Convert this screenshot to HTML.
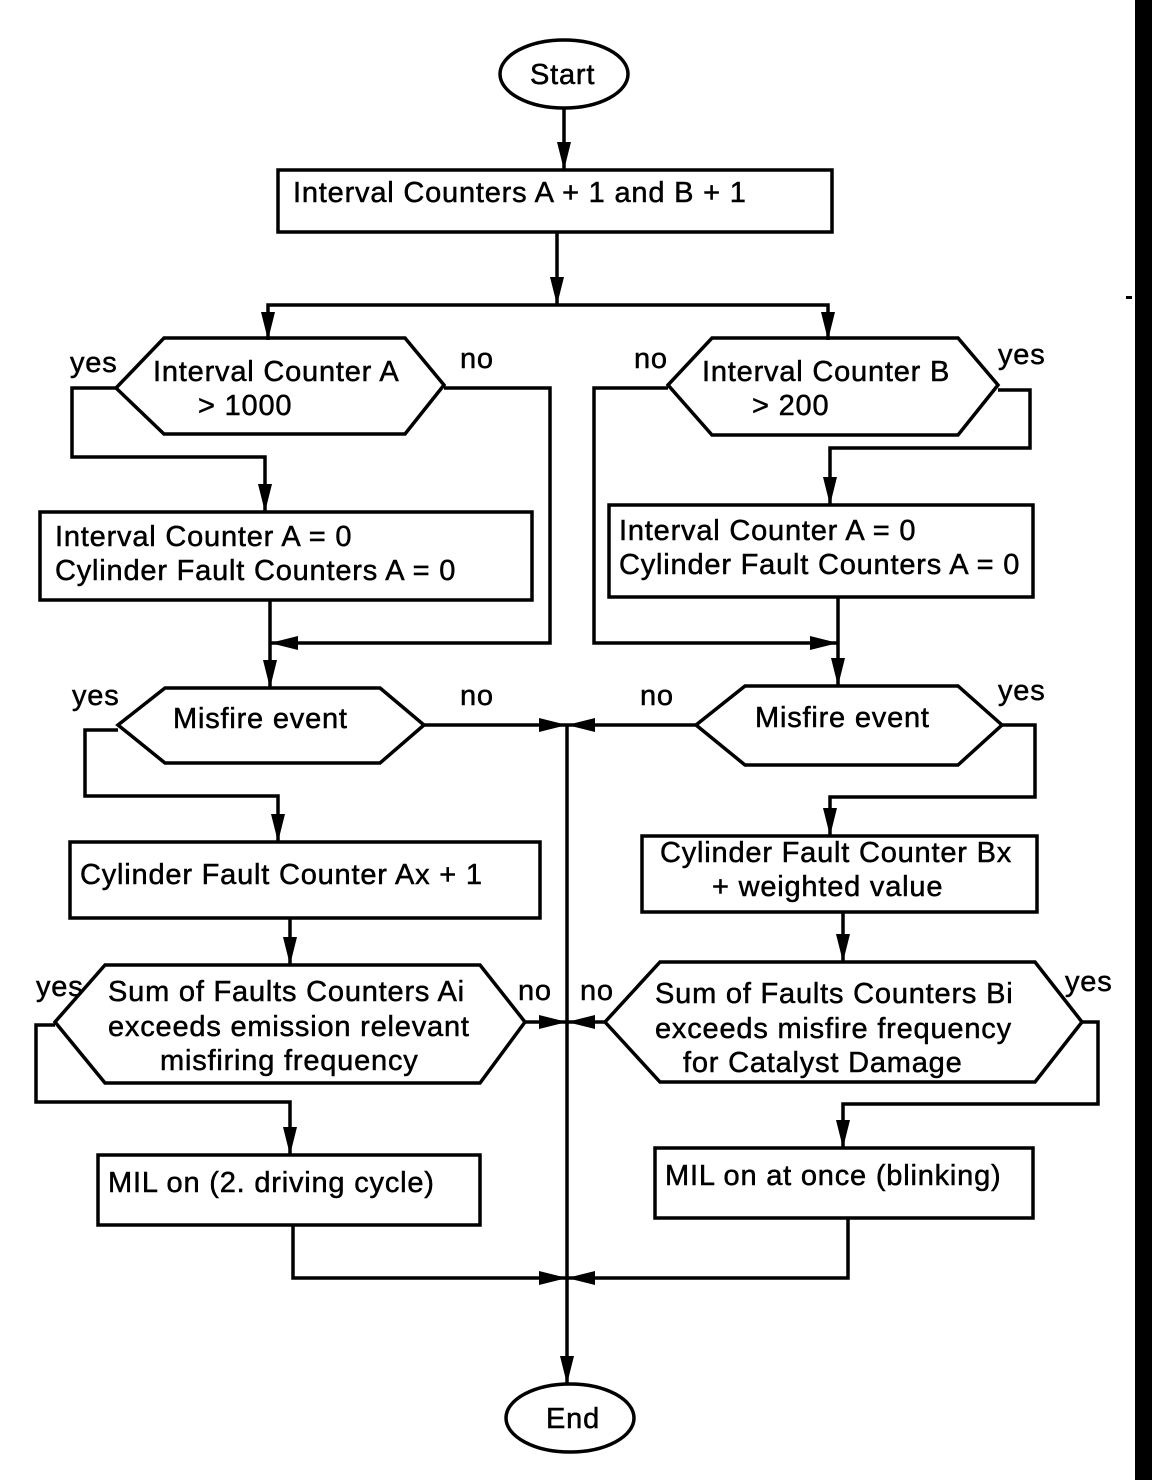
<!DOCTYPE html>
<html><head><meta charset="utf-8"><style>
html,body{margin:0;padding:0;background:#fff}
svg{display:block}
text{font-family:"Liberation Sans",Arial,sans-serif;font-size:29px;letter-spacing:0.8px;fill:#000;stroke:#000;stroke-width:0.5px}
</style></head><body>
<svg width="1152" height="1480" viewBox="0 0 1152 1480" xmlns="http://www.w3.org/2000/svg">
<defs>
<marker id="a" viewBox="0 0 28 14" refX="28" refY="7" markerWidth="28" markerHeight="14" markerUnits="userSpaceOnUse" orient="auto">
<path d="M0,0 L28,7 L0,14 Z" fill="#000"/>
</marker>
</defs>
<rect x="1135" y="0" width="17" height="1480" fill="#000"/>
<rect x="1126" y="296" width="6" height="3" fill="#000"/>
<g fill="none" stroke="#000" stroke-width="3.5">
<ellipse cx="564" cy="74" rx="64" ry="34"/>
<ellipse cx="570" cy="1418" rx="64" ry="34"/>
<rect x="278" y="170" width="554" height="62"/>
<rect x="40" y="512" width="492" height="88"/>
<rect x="609" y="505" width="424" height="92"/>
<rect x="70" y="842" width="470" height="76"/>
<rect x="642" y="836" width="395" height="76"/>
<rect x="98" y="1155" width="382" height="70"/>
<rect x="655" y="1148" width="378" height="70"/>
<polygon points="116,388 164,338 405,338 444,385 405,434 164,434"/>
<polygon points="668,385 712,338 958,338 998,385 958,435 712,435"/>
<polygon points="118,725 165,688 380,688 424,725 380,763 165,763"/>
<polygon points="696,725 745,686 958,686 1002,725 958,765 745,765"/>
<polygon points="55,1022 105,965 480,965 525,1022 480,1083 105,1083"/>
<polygon points="605,1022 660,962 1035,962 1082,1022 1035,1082 660,1082"/>
</g>
<g fill="none" stroke="#000" stroke-width="3.5" marker-end="url(#a)">
<line x1="564" y1="108" x2="564" y2="170"/>
<line x1="557" y1="232" x2="557" y2="305"/>
<polyline points="557,305 268,305 268,340"/>
<polyline points="557,305 828,305 828,340"/>
<polyline points="116,388 72,388 72,457 265,457 265,512"/>
<polyline points="444,388 550,388 550,643 270,643"/>
<line x1="270" y1="600" x2="270" y2="688"/>
<polyline points="998,390 1030,390 1030,448 830,448 830,505"/>
<polyline points="668,388 594,388 594,643 838,643"/>
<line x1="838" y1="597" x2="838" y2="686"/>
<polyline points="118,730 85,730 85,796 278,796 278,842"/>
<polyline points="1002,725 1035,725 1035,797 830,797 830,836"/>
<line x1="424" y1="725" x2="567" y2="725"/>
<line x1="696" y1="725" x2="567" y2="725"/>
<line x1="567" y1="725" x2="567" y2="1384"/>
<line x1="290" y1="918" x2="290" y2="965"/>
<polyline points="55,1025 36,1025 36,1102 290,1102 290,1155"/>
<line x1="525" y1="1022" x2="567" y2="1022"/>
<line x1="843" y1="912" x2="843" y2="962"/>
<polyline points="1082,1022 1098,1022 1098,1104 843,1104 843,1148"/>
<line x1="605" y1="1022" x2="567" y2="1022"/>
<polyline points="293,1225 293,1278 567,1278"/>
<polyline points="848,1218 848,1278 567,1278"/>
</g>
<text x="530" y="84">Start</text>
<text x="546" y="1428">End</text>
<text x="293" y="202">Interval Counters A + 1 and B + 1</text>
<text x="153" y="381">Interval Counter A</text>
<text x="198" y="415">&gt; 1000</text>
<text x="70" y="372">yes</text>
<text x="460" y="368">no</text>
<text x="702" y="381">Interval Counter B</text>
<text x="752" y="415">&gt; 200</text>
<text x="634" y="368">no</text>
<text x="998" y="364">yes</text>
<text x="55" y="546">Interval Counter A = 0</text>
<text x="55" y="580">Cylinder Fault Counters A = 0</text>
<text x="619" y="540">Interval Counter A = 0</text>
<text x="619" y="574">Cylinder Fault Counters A = 0</text>
<text x="173" y="728">Misfire event</text>
<text x="72" y="705">yes</text>
<text x="460" y="705">no</text>
<text x="755" y="727">Misfire event</text>
<text x="640" y="705">no</text>
<text x="998" y="700">yes</text>
<text x="80" y="884">Cylinder Fault Counter Ax + 1</text>
<text x="660" y="862">Cylinder Fault Counter Bx</text>
<text x="712" y="896">+ weighted value</text>
<text x="108" y="1001">Sum of Faults Counters Ai</text>
<text x="108" y="1036">exceeds emission relevant</text>
<text x="160" y="1070">misfiring frequency</text>
<text x="36" y="996">yes</text>
<text x="518" y="1000">no</text>
<text x="655" y="1003">Sum of Faults Counters Bi</text>
<text x="655" y="1038">exceeds misfire frequency</text>
<text x="683" y="1072">for Catalyst Damage</text>
<text x="580" y="1000">no</text>
<text x="1065" y="991">yes</text>
<text x="108" y="1192">MIL on (2. driving cycle)</text>
<text x="665" y="1185">MIL on at once (blinking)</text>
</svg>
</body></html>
